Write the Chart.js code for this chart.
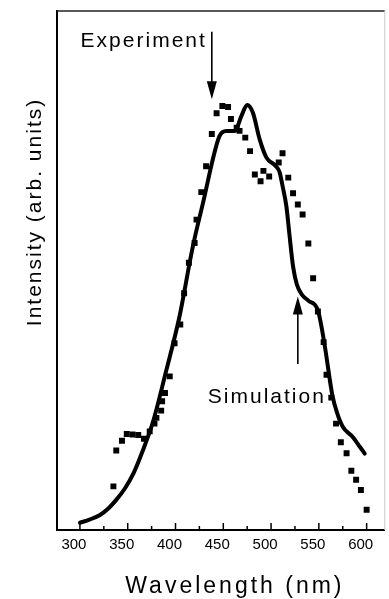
<!DOCTYPE html>
<html>
<head>
<meta charset="utf-8">
<script src="https://cdn.jsdelivr.net/npm/chart.js@4.4.0/dist/chart.umd.min.js"></script>
<style>
  html, body { margin: 0; padding: 0; background: #fff; }
  #wrap { width: 389px; height: 599px; }
</style>
</head>
<body>
<div id="wrap"><canvas id="chart" width="389" height="599"></canvas></div>
<script>
// measured spectrum (squares)
const expWavelength = [335, 338, 344, 349, 355, 361, 367, 373, 378, 380, 385, 386, 389, 394, 399, 405, 409, 414, 420, 422,
  427, 432, 438, 443, 449, 455, 458, 464, 467, 473, 478, 483, 489, 492, 498, 508, 512, 518, 523, 528,
  533, 539, 544, 549, 555, 558, 563, 568, 573, 579, 584, 589, 594, 600];
const expIntensity = [8.4, 15.3, 17.2, 18.5, 18.4, 18.3, 17.6, 19.0, 20.5, 21.6, 23.0, 24.8, 26.4, 29.6, 36.0, 39.6, 45.6, 51.5, 55.3, 59.8,
  65.1, 70.1, 76.3, 80.3, 81.7, 81.5, 79.2, 77.5, 76.9, 75.6, 73.0, 68.5, 67.2, 69.2, 68.1, 70.8, 72.6, 67.9, 64.9, 62.7,
  60.8, 55.2, 48.5, 42.1, 36.2, 29.9, 25.5, 20.5, 16.9, 14.8, 11.4, 9.7, 7.7, 3.9];

// simulated spectrum (solid line)
const simWavelength = [300, 310, 321, 330, 338, 347, 356, 366, 377, 390, 404, 418, 430, 439, 446, 453, 462, 469, 475, 481,
  488, 495, 505, 509, 512, 516, 519, 523, 527, 532, 539, 549, 556, 564, 569, 575, 585, 593, 598];
const simIntensity = [1.4, 2.0, 2.9, 4.2, 5.8, 8.0, 10.9, 15.4, 21.2, 30.5, 41.0, 54.5, 64.0, 71.4, 75.9, 76.9, 76.9, 79.8, 81.9, 80.4,
  75.3, 71.8, 70.1, 68.9, 66.3, 62.4, 57.3, 50.8, 47.3, 45.4, 44.2, 42.3, 35.7, 26.1, 22.6, 19.9, 18.0, 16.0, 14.7];

// x axis: labelled every 50 nm, minor ticks in between
const xTicks = [300, 325, 350, 375, 400, 425, 450, 475, 500, 525, 550, 575, 600];
const xLabelStep = 50;
const xTitle = 'Wavelength (nm)';
const yTitle = 'Intensity (arb. units)';

// arrow labels: text, wavelength of arrow, arrow tip, arrow tail
const noteText = ['Experiment', 'Simulation'];
const noteX = [438, 528];
const noteTip = [83, 45];
const noteTail = [96, 32];

const FONT = '"Liberation Sans", Arial, Helvetica, sans-serif';

function drawArrow(ctx, px, yTail, yTip) {
  const dir = yTip > yTail ? 1 : -1;
  ctx.beginPath();
  ctx.moveTo(px, yTail);
  ctx.lineTo(px, yTip - dir * 14);
  ctx.stroke();
  ctx.beginPath();
  ctx.moveTo(px, yTip);
  ctx.lineTo(px - 5, yTip - dir * 18);
  ctx.lineTo(px + 5, yTip - dir * 18);
  ctx.closePath();
  ctx.fill();
}

const decor = {
  id: 'decor',
  afterDraw(chart) {
    const { ctx, chartArea: a, scales: { x, y } } = chart;
    ctx.save();

    // top + right frame
    ctx.strokeStyle = '#222';
    ctx.lineWidth = 1.5;
    ctx.beginPath(); ctx.moveTo(a.left, a.top); ctx.lineTo(a.right, a.top); ctx.stroke();
    ctx.strokeStyle = '#c8c8c8';
    ctx.lineWidth = 1;
    ctx.beginPath(); ctx.moveTo(a.right, a.top); ctx.lineTo(a.right, a.bottom); ctx.stroke();

    // inward tick marks on the wavelength axis
    ctx.strokeStyle = '#000';
    ctx.lineWidth = 1.5;
    x.ticks.forEach(t => {
      const px = x.getPixelForValue(t.value);
      const len = t.value % xLabelStep ? 4 : 7;
      ctx.beginPath(); ctx.moveTo(px, a.bottom); ctx.lineTo(px, a.bottom - len); ctx.stroke();
    });

    // arrows and their labels
    ctx.fillStyle = '#000';
    ctx.lineWidth = 1.6;
    ctx.font = '21px ' + FONT;
    ctx.letterSpacing = '2px';
    noteText.forEach((txt, i) => {
      const px = x.getPixelForValue(noteX[i]);
      const tip = y.getPixelForValue(noteTip[i]);
      const tail = y.getPixelForValue(noteTail[i]);
      drawArrow(ctx, px, tail, tip);
      if (tip > tail) {
        ctx.textAlign = 'right';
        ctx.fillText(txt, px - 5, tail + 15);
      } else {
        ctx.textAlign = 'center';
        ctx.fillText(txt, px - 31, tail + 39);
      }
    });

    // axis titles
    ctx.font = '23px ' + FONT;
    ctx.letterSpacing = '3px';
    ctx.textAlign = 'center';
    ctx.textBaseline = 'alphabetic';
    ctx.fillText(xTitle, (a.left + a.right) / 2 + 14, chart.height - 6);

    ctx.translate(41, a.top + 201);
    ctx.rotate(-Math.PI / 2);
    ctx.font = '21px ' + FONT;
    ctx.letterSpacing = '2px';
    ctx.fillText(yTitle, 0, 0);
    ctx.restore();
  }
};

const expPoints = expWavelength.map((w, i) => ({ x: w, y: expIntensity[i] }));
const simPoints = simWavelength.map((w, i) => ({ x: w, y: simIntensity[i] }));

new Chart(document.getElementById('chart'), {
  type: 'scatter',
  data: {
    datasets: [
      {
        label: 'Experiment',
        data: expPoints,
        pointStyle: 'rect',
        pointRadius: 4.2,
        backgroundColor: '#000',
        borderColor: '#000',
        borderWidth: 0
      },
      {
        label: 'Simulation',
        data: simPoints,
        showLine: true,
        pointRadius: 0,
        borderColor: '#000',
        borderWidth: 4,
        borderCapStyle: 'round',
        cubicInterpolationMode: 'monotone'
      }
    ]
  },
  options: {
    responsive: false,
    animation: false,
    layout: { padding: { top: 11, right: 4, left: 0, bottom: 0 } },
    plugins: {
      legend: { display: false },
      tooltip: { enabled: false }
    },
    scales: {
      x: {
        type: 'linear',
        min: 276,
        max: 619,
        grid: { display: false, drawTicks: false },
        border: { display: true, color: '#000', width: 2 },
        ticks: {
          autoSkip: false,
          maxRotation: 0,
          padding: 6,
          labelOffset: -6,
          color: '#000',
          font: { family: FONT, size: 15 },
          callback: v => (v % xLabelStep === 0 ? String(v) : '')
        },
        afterBuildTicks: s => { s.ticks = xTicks.map(v => ({ value: v })); },
        afterFit: s => { s.height = 69; }
      },
      y: {
        min: 0,
        max: 100,
        grid: { display: false, drawTicks: false },
        border: { display: true, color: '#000', width: 2 },
        ticks: { display: false },
        afterFit: s => { s.width = 57; }
      }
    }
  },
  plugins: [decor]
});
</script>
</body>
</html>
